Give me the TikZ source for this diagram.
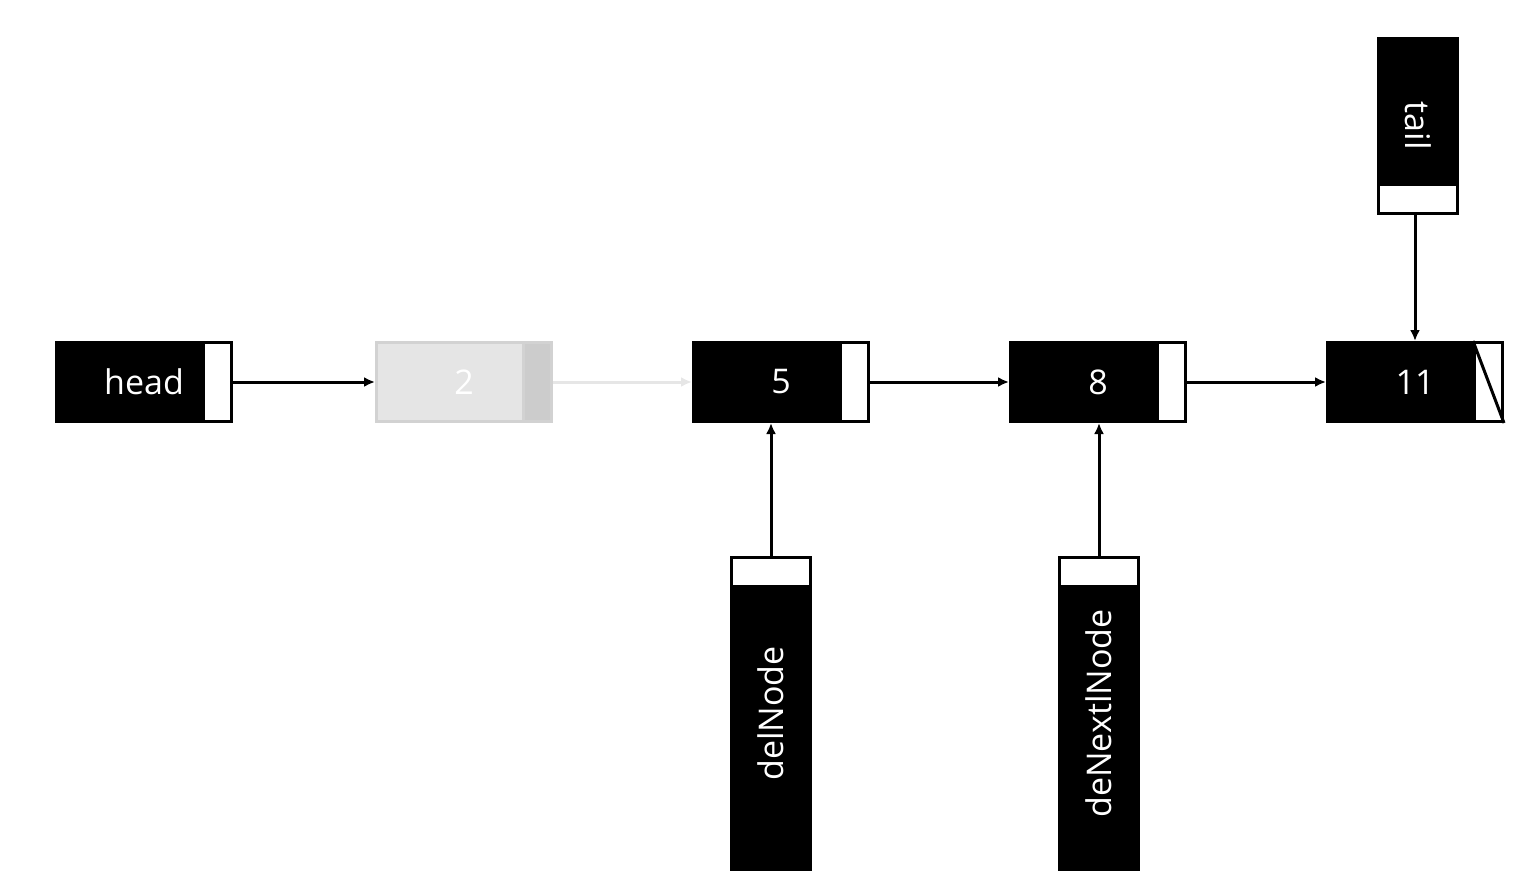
\documentclass[tikz,border=0pt]{standalone}
\usepackage{fontspec}
\setmainfont{Open Sans}
\usetikzlibrary{arrows.meta,positioning}
\definecolor{ghostfill}{RGB}{229,229,229}
\definecolor{ghostdraw}{RGB}{210,210,210}
\definecolor{ghostptr}{RGB}{204,204,204}
\definecolor{ghostline}{RGB}{230,230,230}
\tikzset{
  cell/.style={rectangle, fill=black, draw=black, line width=3pt, text=white, minimum width=175pt, minimum height=79pt, inner sep=0pt, font=\fontsize{34}{40}\selectfont},
  ghost/.style={cell, fill=ghostfill, draw=ghostdraw},
  ptrcell/.style={rectangle, fill=white, draw=black, line width=3pt, minimum width=28pt, minimum height=79pt, inner sep=0pt},
  ghostptrcell/.style={ptrcell, fill=ghostptr, draw=ghostdraw},
  vcell/.style={rectangle, fill=black, draw=black, line width=3pt, minimum width=79pt, inner sep=0pt},
  vptrcell/.style={ptrcell, minimum width=79pt, minimum height=29pt},
  vlabel/.style={text=white, inner sep=0pt, font=\fontsize{34}{40}\selectfont},
  arrow/.style={-{Latex[length=11pt,width=10pt]}, line width=3pt, draw=black}
}
\begin{document}
\begin{tikzpicture}[x=1pt, y=-1pt, node distance=139pt]
\useasboundingbox (0,0) rectangle (1529,888);
% list cells
\node[cell] (head) at (144,382) {head};
\node[ghost, right=142pt of head] (n2) {2};
\node[cell, right=of n2] (n5) {5};
\node[cell, right=of n5] (n8) {8};
\node[cell, right=of n8] (n11) {11};
% next pointers
\node[ptrcell, anchor=east] (headp) at (head.east) {};
\node[ghostptrcell, anchor=east] (n2p) at (n2.east) {};
\node[ptrcell, anchor=east] (n5p) at (n5.east) {};
\node[ptrcell, anchor=east] (n8p) at (n8.east) {};
\node[ptrcell, anchor=east] (n11p) at (n11.east) {};
\draw[line width=3pt] (n11p.north west) -- (n11p.south east);
% reference variables
\node[vcell, minimum height=175pt, above=126pt of n11, xshift=3pt] (tail) {};
\node[vlabel, rotate=-90] at (tail) {tail};
\node[vptrcell, anchor=south] (tailp) at (tail.south) {};
\node[vcell, minimum height=312pt, below=133pt of n5, xshift=-10pt] (del) {};
\node[vlabel, rotate=90] at (del) {delNode};
\node[vptrcell, anchor=north] (delp) at (del.north) {};
\node[vcell, minimum height=312pt, below=133pt of n8, xshift=1pt] (delnext) {};
\node[vlabel, rotate=90] at (delnext) {deNextlNode};
\node[vptrcell, anchor=north] (delnextp) at (delnext.north) {};
% links
\draw[arrow] (headp.east) -- (n2.west);
\draw[arrow, draw=ghostline] (n2p.east) -- (n5.west);
\draw[arrow] (n5p.east) -- (n8.west);
\draw[arrow] (n8p.east) -- (n11.west);
\draw[arrow] (n11.north |- tailp.south) -- (n11.north);
\draw[arrow] (delp.north) -- (delp.north |- n5.south);
\draw[arrow] (delnextp.north) -- (delnextp.north |- n8.south);
\end{tikzpicture}
\end{document}
